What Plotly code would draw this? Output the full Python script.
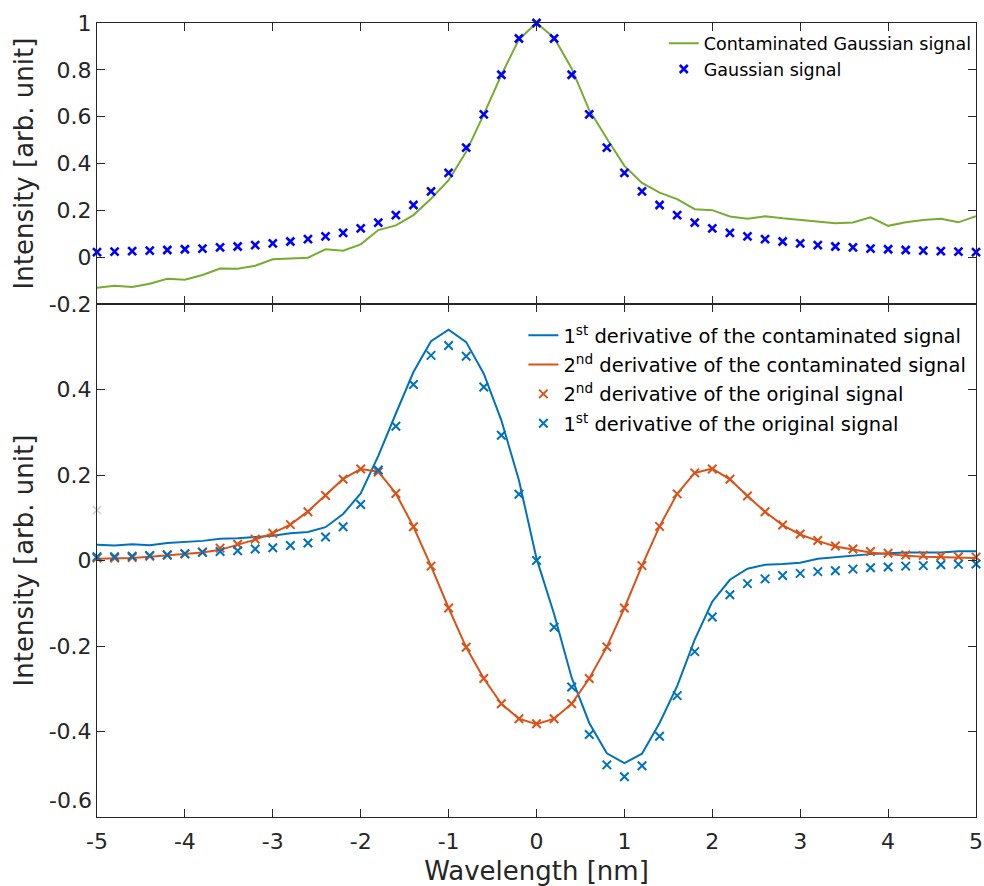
import numpy as np
import plotly.graph_objects as go

# ---------------- data ----------------
wavelength = np.linspace(-5, 5, 51)

gaussian_signal = [0.022, 0.024, 0.026, 0.028, 0.031, 0.034, 0.037, 0.042, 0.046, 0.052,
                   0.059, 0.067, 0.077, 0.089, 0.104, 0.123, 0.148, 0.180, 0.223, 0.281,
                   0.360, 0.468, 0.610, 0.779, 0.934, 1.000, 0.934, 0.779, 0.610, 0.468,
                   0.360, 0.281, 0.223, 0.180, 0.148, 0.123, 0.104, 0.089, 0.077, 0.067,
                   0.059, 0.052, 0.046, 0.042, 0.037, 0.034, 0.031, 0.028, 0.026, 0.024, 0.022]

contaminated_signal = [-0.130, -0.122, -0.127, -0.113, -0.092, -0.096, -0.076, -0.048, -0.049, -0.036,
                       -0.009, -0.007, -0.002, 0.034, 0.028, 0.055, 0.116, 0.136, 0.180, 0.250,
                       0.329, 0.450, 0.610, 0.778, 0.930, 1.000, 0.937, 0.806, 0.628, 0.507,
                       0.390, 0.317, 0.276, 0.248, 0.205, 0.201, 0.174, 0.164, 0.175, 0.166,
                       0.158, 0.152, 0.145, 0.148, 0.170, 0.134, 0.149, 0.159, 0.164, 0.149, 0.175]

d1_contaminated = [0.037, 0.035, 0.038, 0.036, 0.041, 0.043, 0.046, 0.051, 0.052, 0.055,
                   0.058, 0.064, 0.067, 0.078, 0.109, 0.157, 0.245, 0.344, 0.441, 0.513,
                   0.540, 0.511, 0.437, 0.328, 0.188, 0.005, -0.125, -0.274, -0.380, -0.451,
                   -0.474, -0.452, -0.380, -0.294, -0.185, -0.096, -0.045, -0.019, -0.010, -0.008,
                   -0.005, 0.004, 0.008, 0.012, 0.015, 0.017, 0.019, 0.019, 0.019, 0.022, 0.022]

d2_contaminated = [0.004, 0.005, 0.006, 0.009, 0.012, 0.015, 0.019, 0.025, 0.037, 0.049,
                   0.064, 0.084, 0.115, 0.153, 0.191, 0.214, 0.208, 0.157, 0.079, -0.013,
                   -0.111, -0.203, -0.276, -0.335, -0.370, -0.383, -0.370, -0.335, -0.276, -0.202,
                   -0.111, -0.012, 0.080, 0.156, 0.205, 0.215, 0.190, 0.151, 0.114, 0.083,
                   0.061, 0.046, 0.033, 0.026, 0.019, 0.015, 0.011, 0.009, 0.008, 0.007, 0.006]

d2_original = [0.006, 0.006, 0.007, 0.010, 0.013, 0.016, 0.020, 0.029, 0.038, 0.050,
               0.064, 0.084, 0.114, 0.152, 0.190, 0.214, 0.207, 0.157, 0.079, -0.013,
               -0.111, -0.203, -0.276, -0.335, -0.370, -0.382, -0.370, -0.335, -0.276, -0.202,
               -0.111, -0.012, 0.080, 0.156, 0.205, 0.214, 0.190, 0.151, 0.114, 0.083,
               0.062, 0.047, 0.034, 0.027, 0.021, 0.017, 0.013, 0.012, 0.010, 0.009, 0.008]

d1_original = [0.009, 0.009, 0.010, 0.012, 0.013, 0.016, 0.019, 0.021, 0.023, 0.027,
               0.030, 0.035, 0.041, 0.055, 0.079, 0.131, 0.212, 0.314, 0.412, 0.480,
               0.503, 0.478, 0.406, 0.293, 0.155, 0.000, -0.156, -0.296, -0.407, -0.478,
               -0.506, -0.480, -0.411, -0.316, -0.213, -0.132, -0.080, -0.054, -0.043, -0.035,
               -0.030, -0.026, -0.024, -0.020, -0.017, -0.015, -0.013, -0.012, -0.010, -0.009, -0.008]

stray_x = [-5]
stray_y = [0.118]

x_ticks = [-5, -4, -3, -2, -1, 0, 1, 2, 3, 4, 5]
x_ticktext = ["-5", "-4", "-3", "-2", "-1", "0", "1", "2", "3", "4", "5"]
y1_ticks = [-0.2, 0, 0.2, 0.4, 0.6, 0.8, 1]
y1_ticktext = ["-0.2", "0", "0.2", "0.4", "0.6", "0.8", "1"]
y2_ticks = [-0.4, -0.2, 0, 0.2, 0.4]
y2_ticktext = ["-0.4", "-0.2", "0", "0.2", "0.4"]
y2_bottom_tick = -0.6
y2_bottom_label = "-0.6"

# ---------------- styles ----------------
GREEN = "#77AC30"
BLUE = "#0072BD"
ORANGE = "#D95319"
PBLUE = "#0000FF"
AX = "#262626"
FONT = "DejaVu Sans"

fig = go.Figure()

fig.add_trace(go.Scatter(x=wavelength, y=contaminated_signal, mode="lines",
                         line=dict(color=GREEN, width=2),
                         name="Contaminated Gaussian signal",
                         xaxis="x", yaxis="y", legend="legend"))
fig.add_trace(go.Scatter(x=wavelength, y=gaussian_signal, mode="markers",
                         marker=dict(symbol="x-thin", size=8, color=PBLUE,
                                     line=dict(color=PBLUE, width=2.6)),
                         name="Gaussian signal", cliponaxis=False,
                         xaxis="x", yaxis="y", legend="legend"))

fig.add_trace(go.Scatter(x=stray_x, y=stray_y, mode="markers",
                         marker=dict(symbol="x-thin", size=8, color="#cfcfcf",
                                     line=dict(color="#cfcfcf", width=1.5)),
                         showlegend=False, cliponaxis=False, xaxis="x2", yaxis="y2"))

fig.add_trace(go.Scatter(x=wavelength, y=d1_contaminated, mode="lines",
                         line=dict(color=BLUE, width=2),
                         name="1<sup>st</sup> derivative of the contaminated signal",
                         legendgroup="a", xaxis="x2", yaxis="y2", legend="legend2"))
fig.add_trace(go.Scatter(x=wavelength, y=d2_contaminated, mode="lines",
                         line=dict(color=ORANGE, width=2),
                         name="2<sup>nd</sup> derivative of the contaminated signal",
                         legendgroup="b", xaxis="x2", yaxis="y2", legend="legend2"))
fig.add_trace(go.Scatter(x=wavelength, y=d2_original, mode="markers",
                         marker=dict(symbol="x-thin", size=8.5, color=ORANGE,
                                     line=dict(color=ORANGE, width=2)),
                         name="2<sup>nd</sup> derivative of the original signal",
                         legendgroup="c", cliponaxis=False,
                         xaxis="x2", yaxis="y2", legend="legend2"))
fig.add_trace(go.Scatter(x=wavelength, y=d1_original, mode="markers",
                         marker=dict(symbol="x-thin", size=8.5, color=BLUE,
                                     line=dict(color=BLUE, width=2)),
                         name="1<sup>st</sup> derivative of the original signal",
                         legendgroup="d", cliponaxis=False,
                         xaxis="x2", yaxis="y2", legend="legend2"))

axis_common = dict(showline=True, linecolor=AX, linewidth=1, mirror="ticks",
                   ticks="inside", ticklen=8, tickcolor=AX, tickwidth=1,
                   showgrid=False, zeroline=False, automargin=False,
                   tickfont=dict(family=FONT, size=22, color=AX))

XDOM = [0, 0.991]

fig.update_layout(
    width=984, height=886,
    margin=dict(l=97, r=0, t=23, b=69),
    paper_bgcolor="white", plot_bgcolor="white",
    font=dict(family=FONT, color=AX),
    xaxis=dict(domain=XDOM, anchor="y", range=[-5, 5], tickvals=x_ticks,
               showticklabels=False, **axis_common),
    yaxis=dict(domain=[0.646, 1], anchor="x", range=[-0.2, 1], tickvals=y1_ticks,
               ticktext=y1_ticktext,
               title=dict(text="Intensity [arb. unit]", font=dict(family=FONT, size=26, color=AX),
                          standoff=7),
               **axis_common),
    xaxis2=dict(domain=XDOM, anchor="y2", range=[-5, 5], tickvals=x_ticks,
                ticktext=x_ticktext, ticklabelstandoff=5,
                title=dict(text="Wavelength [nm]", font=dict(family=FONT, size=26, color=AX),
                           standoff=11),
                **axis_common),
    yaxis2=dict(domain=[0, 0.646], anchor="x2", range=[-0.6, 0.6], tickvals=y2_ticks,
                ticktext=y2_ticktext,
                title=dict(text="Intensity [arb. unit]", font=dict(family=FONT, size=26, color=AX),
                           standoff=7),
                **axis_common),
    legend=dict(x=0.639, xanchor="left", y=0.997, yanchor="top",
                bgcolor="rgba(0,0,0,0)", borderwidth=0,
                font=dict(family=FONT, size=17.5, color="#000000")),
    legend2=dict(x=0.4807, xanchor="left", y=0.631, yanchor="top",
                 bgcolor="rgba(0,0,0,0)", borderwidth=0, tracegroupgap=1,
                 font=dict(family=FONT, size=19.5, color="#000000")),
    showlegend=True,
)

# bottom tick label of the lower panel, drawn slightly above its tick as in the original
fig.add_annotation(x=0, xref="paper", y=y2_bottom_tick, yref="y2", text=y2_bottom_label,
                   showarrow=False, xanchor="right", yanchor="middle", xshift=-3, yshift=16,
                   font=dict(family=FONT, size=22, color=AX))

fig.write_html("out.html")
